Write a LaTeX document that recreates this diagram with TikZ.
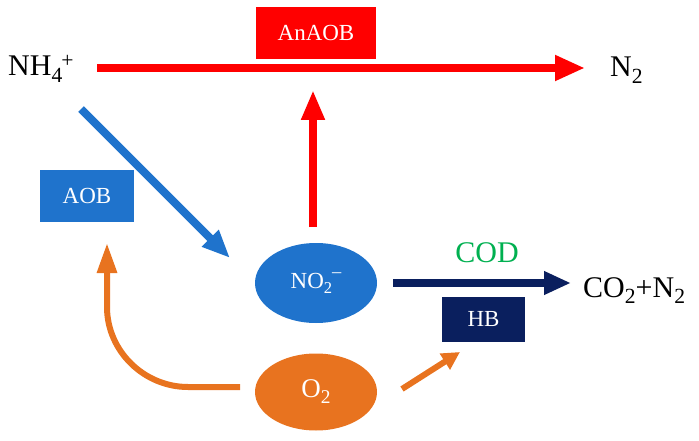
\documentclass[tikz,border=0pt]{standalone}
\usepackage{fontspec}
\usepackage{graphicx}
\setmainfont{Liberation Serif}
\usetikzlibrary{arrows.meta,shapes.geometric}
\definecolor{cred}{HTML}{FF0000}
\definecolor{cblue}{HTML}{1F73CC}
\definecolor{corange}{HTML}{E8731F}
\definecolor{cnavy}{HTML}{0A1F5E}
\definecolor{cgreen}{HTML}{00B050}
\newcommand\mysub[1]{\raisebox{-0.22em}{\scalebox{0.72}{#1}}}
\newcommand\mysup[1]{\raisebox{0.28em}{\scalebox{0.72}{#1}}}
\tikzset{
  lbl/.style={font=\fontsize{30}{31}\selectfont, inner sep=0pt},
  boxnode/.style={inner sep=0pt, text=white, font=\fontsize{23}{24}\selectfont},
  ellnode/.style={ellipse, inner sep=0pt, text=white, minimum width=122pt},
  thick arrow/.style={line width=8pt},
}
\begin{document}
\begin{tikzpicture}[x=1pt,y=-1pt]
\useasboundingbox (0,0) rectangle (699,441);
% labels
\node[lbl, anchor=base west] (nh) at (8,76) {NH\mysub{4}\hspace{-1pt}\mysup{+}};
\node[lbl, anchor=base west] (n2) at (610,77) {N\mysub{2}};
\node[lbl, anchor=base west] (co2) at (583,297) {CO\mysub{2}+N\mysub{2}};
\node[lbl, anchor=base, text=cgreen] (cod) at (487,262) {COD};
% boxes
\node[boxnode, fill=cred, minimum width=120pt, minimum height=52pt] (anaob) at (316,33) {AnAOB};
\node[boxnode, fill=cblue, minimum width=94pt, minimum height=52pt] (aob) at (87,196) {AOB};
\node[boxnode, fill=cnavy, minimum width=83pt, minimum height=45pt] (hb) at (483.5,319.5) {HB};
% ellipses
\node[ellnode, fill=cblue, minimum height=80pt, font=\fontsize{23}{24}\selectfont] (no2) at (316,283) {NO\mysub{2}\raisebox{0.45em}{\scalebox{0.8}{–}}};
\node[ellnode, fill=corange, minimum height=77pt, font=\fontsize{27}{28}\selectfont] (o2) at (316,392) {O\mysub{2}};
% anchor coordinates for connector ends
\coordinate (redS) at (97,68);
\coordinate (redE) at (585,68);
\coordinate (upS) at (313,227);
\coordinate (upE) at (313,90);
\coordinate (blS) at (81,109);
\coordinate (blE) at (230,258);
\coordinate (nvS) at (393,283);
\coordinate (nvE) at (571,283);
\coordinate (orS) at (402,389);
\coordinate (orE) at (460,352);
\coordinate (ocS) at (240,387);
\coordinate (ocE) at (107,243);
% connectors
\draw[cred, thick arrow, -{Triangle[length=30pt,width=24pt]}] (redS) -- (redE);
\draw[cred, thick arrow, -{Triangle[length=30pt,width=22pt]}] (upS) -- (upE);
\draw[cblue, thick arrow, -{Triangle[length=28pt,width=22pt]}] (blS) -- (blE);
\draw[cnavy, thick arrow, -{Triangle[length=27pt,width=22pt]}] (nvS) -- (nvE);
\draw[corange, line width=6pt, -{Triangle[length=18pt,width=18pt]}] (orS) -- (orE);
\draw[corange, line width=6pt, -{Triangle[length=30pt,width=19pt]}] (ocS) -- (188,387) .. controls (144,387) and (107,351) .. (107,307) -- (ocE);
\end{tikzpicture}
\end{document}
